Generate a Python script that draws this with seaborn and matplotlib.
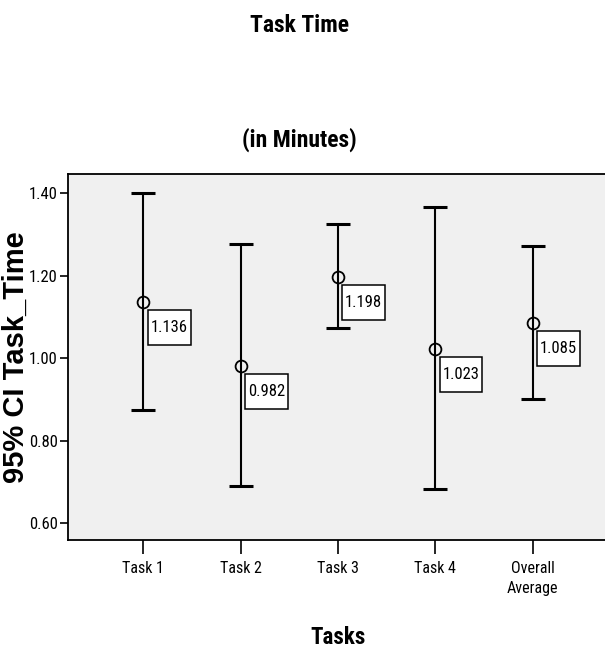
import matplotlib
matplotlib.use("Agg")
import matplotlib.pyplot as plt
from matplotlib import font_manager as fm
from matplotlib.path import Path
import seaborn as sns
import pandas as pd
import numpy as np

# ---- data ----
categories = ["Task 1", "Task 2", "Task 3", "Task 4", "Overall\nAverage"]
means = [1.136, 0.982, 1.198, 1.023, 1.085]
ci_low = [0.875, 0.690, 1.074, 0.682, 0.901]
ci_high = [1.400, 1.277, 1.326, 1.368, 1.272]
y_ticks = [0.60, 0.80, 1.00, 1.20, 1.40]

df = pd.DataFrame({"task": categories, "mean": means, "lo": ci_low, "hi": ci_high})

sns.set_theme(style="ticks")

# find a narrow / condensed sans font if one is installed
narrow_family, narrow_stretch = None, "normal"
names = {f.name for f in fm.fontManager.ttflist}
for cand in ["Liberation Sans Narrow", "Arial Narrow", "Roboto Condensed",
             "Open Sans Condensed", "DejaVu Sans Condensed", "Noto Sans Condensed"]:
    if cand in names:
        narrow_family = cand
        break
if narrow_family is None:
    for f in fm.fontManager.ttflist:
        st = f.stretch
        if (st in ("condensed", "semi-condensed", "extra-condensed")
                or (isinstance(st, int) and st < 500)) and "Mono" not in f.name and "Serif" not in f.name:
            narrow_family, narrow_stretch = f.name, "condensed"
            break
if narrow_family is None:
    NARROW = ["Liberation Sans", "DejaVu Sans"]
    k = 0.84
else:
    NARROW = [narrow_family, "DejaVu Sans"]
    k = 1.0
REG = ["Liberation Sans", "DejaVu Sans"]
plt.rcParams["font.family"] = NARROW
plt.rcParams["font.stretch"] = narrow_stretch
plt.rcParams["text.color"] = "black"
plt.rcParams["axes.labelcolor"] = "black"


def tall_box(x0, y0, width, height, mutation_size):
    px, py = 3.0, 10.0
    x0, y0 = x0 - px, y0 - py
    x1, y1 = x0 + width + 2 * px, y0 + height + 2 * py
    return Path([(x0, y0), (x1, y0), (x1, y1), (x0, y1), (x0, y0)],
                [Path.MOVETO, Path.LINETO, Path.LINETO, Path.LINETO, Path.CLOSEPOLY])


W, H = 605, 654
fig = plt.figure(figsize=(W / 100, H / 100), dpi=100)
ax = fig.add_axes([68 / W, (H - 540) / H, (608 - 68) / W, (540 - 174) / H])
ax.set_facecolor("#f0f0f0")

# CI error bars
x = np.arange(len(df))
ax.errorbar(x, df["mean"], yerr=[df["mean"] - df["lo"], df["hi"] - df["mean"]],
            fmt="none", ecolor="black", elinewidth=1.5, capsize=8.5, capthick=2.2, zorder=2)

# mean markers
sns.pointplot(data=df, x="task", y="mean", order=categories, linestyle="none",
              marker="o", color="black", markerfacecolor="none", markeredgecolor="black",
              markersize=8.5, markeredgewidth=1.3, errorbar=None, ax=ax, zorder=3)

for i, m in enumerate(df["mean"]):
    ax.annotate(f"{m:.3f}", xy=(i, m), xytext=(18.5, -18.5), textcoords="offset points",
                ha="center", va="center", fontsize=12 * k, family=NARROW, color="black",
                fontstretch=narrow_stretch,
                bbox=dict(boxstyle=tall_box, fc="white", ec="black", lw=1.1), zorder=4)

ax.set_xlim(-0.774, 4.774)
ax.set_ylim(0.5595, 1.447)
ax.set_yticks(y_ticks)
ax.set_yticklabels([f"{v:.2f}" for v in y_ticks])
ax.set_xticks(x)
ax.set_xticklabels(categories, linespacing=1.45)
ax.tick_params(axis="x", direction="out", length=10, width=1.2, pad=5,
               labelsize=11.5 * k, colors="black")
ax.tick_params(axis="y", direction="out", length=6, width=1.2, pad=1.5,
               labelsize=12 * k, colors="black")

for s in ["left", "top", "bottom"]:
    ax.spines[s].set_visible(True)
    ax.spines[s].set_color("black")
    ax.spines[s].set_linewidth(1.3)
ax.spines["right"].set_visible(False)
ax.grid(False)

ax.set_xlabel("Tasks", fontsize=16.5 * k, fontweight="bold", family=NARROW,
              fontstretch=narrow_stretch, color="black")
ax.xaxis.set_label_coords(0.5, -0.235)
ax.set_ylabel("95% CI Task_Time", fontsize=21, fontweight="bold", family=REG,
              fontstretch="normal", color="black")
ax.yaxis.set_label_coords(-0.0715, 0.5)

fig.text(0.495, 1 - 32 / H, "Task Time", ha="center", va="baseline",
         fontsize=17 * k, fontweight="bold", family=NARROW, fontstretch=narrow_stretch, color="black")
fig.text(0.495, 1 - 147 / H, "(in Minutes)", ha="center", va="baseline",
         fontsize=17 * k, fontweight="bold", family=NARROW, fontstretch=narrow_stretch, color="black")

fig.savefig("out.png", dpi=100, facecolor="white")
